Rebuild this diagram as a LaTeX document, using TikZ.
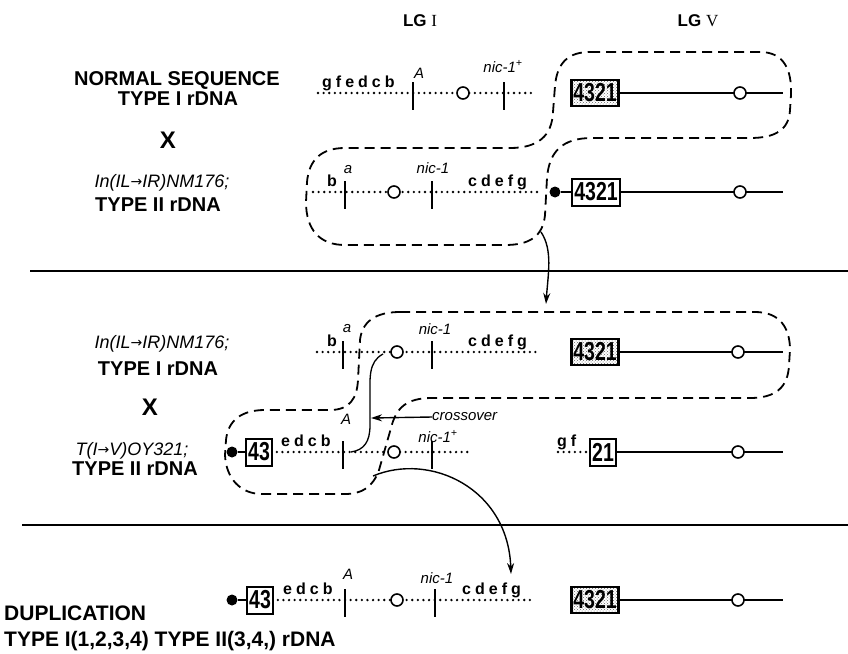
\documentclass[tikz,border=0pt]{standalone}
\usepackage{fontspec}
\setmainfont{Liberation Sans}
\newfontfamily\lgserif{Liberation Serif}
\newfontfamily\arrowfont{DejaVu Sans}
\newfontfamily\narrowfam[FakeStretch=0.75]{Liberation Sans}
\usetikzlibrary{patterns,arrows.meta}
\newcommand{\lsp}{\kern4pt}
\newcommand{\rarr}{{\arrowfont\fontsize{14}{14}\selectfont\raisebox{0.5pt}{→}}}
\begin{document}
\begin{tikzpicture}[x=1pt,y=-1pt,
  lab/.style={font=\fontsize{20}{22}\selectfont\bfseries, inner sep=0pt, anchor=base},
  bigx/.style={font=\fontsize{24}{24}\selectfont\bfseries, inner sep=0pt},
  ilab/.style={font=\fontsize{18}{20}\selectfont\itshape, inner sep=0pt, anchor=base},
  small/.style={font=\fontsize{16}{17}\selectfont\bfseries, inner sep=0pt, anchor=base west},
  ismall/.style={font=\fontsize{15}{16}\selectfont\itshape, inner sep=0pt, anchor=base},
  dots/.style={line width=2.6pt, line cap=round, dash pattern=on 0pt off 5.6pt},
  chrom/.style={line width=2.2pt},
  tickmark/.style={line width=2pt},
  cen/.style={circle, draw, line width=1.6pt, fill=white, minimum size=12pt, inner sep=0pt},
  bdot/.style={circle, fill=black, minimum size=11pt, inner sep=0pt},
  rbox/.style={draw, line width=2pt, fill=white, font=\narrowfam\bfseries\fontsize{26}{26}\selectfont, inner xsep=2pt, inner ysep=0pt, minimum height=27pt},
  sbox/.style={draw, line width=2.6pt, pattern=crosshatch dots, pattern color=black!60, font=\narrowfam\bfseries\fontsize{26}{26}\selectfont, inner xsep=2pt, inner ysep=0pt, minimum height=26pt},
  loopline/.style={line width=1.8pt, dash pattern=on 10pt off 6pt},
  sepline/.style={line width=2.4pt},
  arr/.style={line width=1.4pt, -{Stealth[length=11pt,width=7pt]}},
]
\useasboundingbox (0,0) rectangle (848,653);

% headers
\node[font=\fontsize{17}{17}\selectfont\bfseries, inner sep=0pt, anchor=base] (lg1) at (420,27) {LG {\lgserif\mdseries I}};
\node[font=\fontsize{17}{17}\selectfont\bfseries, inner sep=0pt, anchor=base] (lg5) at (698,27) {LG {\lgserif\mdseries V}};

% ---------------- section 1 ----------------
\node[lab] (l1a) at (177,85) {NORMAL SEQUENCE};
\node[lab] (l1b) at (178,105) {TYPE I rDNA};
\node[bigx] (x1) at (168,140) {X};
\node[ilab] (l1c) at (162,187) {In(IL\rarr IR)NM176;};
\node[lab] (l1d) at (158,211) {TYPE II rDNA};

% row 1
\coordinate (r1s) at (318,93); \coordinate (r1e) at (535,93);
\draw[dots] (r1s) -- (r1e);
\draw[tickmark] (413,82) -- (413,110);
\draw[tickmark] (504,82) -- (504,110);
\node[cen] (r1c) at (463,93) {};
\node[small] (r1g) at (322,87) {g\lsp f\lsp e\lsp d\lsp c\lsp b};
\node[ismall] (r1A) at (419,78) {A};
\node[ismall] (r1n) at (503,72) {nic-1\textsuperscript{+}};
\node[sbox] (r1box) at (595,93) {4321};
\coordinate (r1end) at (783,93);
\draw[chrom] (r1box.east) -- (r1end);
\node[cen] (r1cv) at (740,93) {};

% row 2
\coordinate (r2s) at (313,192); \coordinate (r2e) at (540,192);
\draw[dots] (r2s) -- (r2e);
\draw[tickmark] (345,181) -- (345,209);
\draw[tickmark] (432,181) -- (432,209);
\node[cen] (r2c) at (394,192) {};
\node[small] (r2b) at (327,186) {b};
\node[ismall] (r2a) at (348,173) {a};
\node[ismall] (r2n) at (433,173) {nic-1};
\node[small] (r2cd) at (468,186) {c\lsp d\lsp e\lsp f\lsp g};
\node[bdot] (r2dot) at (555,192) {};
\node[rbox] (r2box) at (596,192) {4321};
\coordinate (r2end) at (783,192);
\draw[chrom] (r2dot) -- (r2box.west);
\draw[chrom] (r2box.east) -- (r2end);
\node[cen] (r2cv) at (740,192) {};

% dashed exchange outline 1
\draw[loopline] (590,52) -- (760,52) .. controls (784,52) and (792,70) .. (791,95)
  -- (790,110) .. controls (789,130) and (775,138) .. (750,138)
  -- (592,138) .. controls (562,138) and (549,152) .. (547,178)
  -- (545,215) .. controls (543,236) and (530,245) .. (505,245)
  -- (345,245) .. controls (320,245) and (306,230) .. (306,202)
  -- (307,182) .. controls (309,160) and (321,148) .. (345,148)
  -- (510,148) .. controls (538,148) and (552,136) .. (553,112)
  -- (555,86) .. controls (557,63) and (568,52) .. (590,52) -- cycle;

\coordinate (a1s) at (541,232); \coordinate (a1e) at (546,304);
\draw[arr] (a1s) .. controls (553,250) and (548,274) .. (a1e);

% separators
\coordinate (s1a) at (30,271); \coordinate (s1b) at (848,271);
\draw[sepline] (s1a) -- (s1b);
\coordinate (s2a) at (22,525); \coordinate (s2b) at (848,525);
\draw[sepline] (s2a) -- (s2b);

% ---------------- section 2 ----------------
\node[ilab] (l2a) at (162,348) {In(IL\rarr IR)NM176;};
\node[lab] (l2b) at (158,375) {TYPE I rDNA};
\node[bigx] (x2) at (150,407) {X};
\node[ilab] (l2c) at (132,455) {T(I\rarr V)OY321;};
\node[lab] (l2d) at (135,475) {TYPE II rDNA};

% row a
\coordinate (rAs) at (317,352); \coordinate (rAe) at (540,352);
\draw[dots] (rAs) -- (rAe);
\draw[tickmark] (343,341) -- (343,369);
\draw[tickmark] (432,341) -- (432,369);
\node[cen] (rAc) at (397,352) {};
\node[small] (rAb) at (327,346) {b};
\node[ismall] (rAa) at (347,332) {a};
\node[ismall] (rAn) at (435,334) {nic-1};
\node[small] (rAcd) at (468,346) {c\lsp d\lsp e\lsp f\lsp g};
\node[sbox] (rAbox) at (595,352) {4321};
\coordinate (rAend) at (783,352);
\draw[chrom] (rAbox.east) -- (rAend);
\node[cen] (rAcv) at (738,352) {};

% row b
\node[bdot] (rBdot) at (232,452) {};
\node[rbox] (rBbox) at (259,452) {43};
\draw[chrom] (rBdot) -- (rBbox.west);
\coordinate (rBe) at (468,452);
\draw[dots] ([xshift=4pt]rBbox.east) -- (rBe);
\draw[tickmark] (343,441) -- (343,469);
\draw[tickmark] (432,441) -- (432,469);
\node[cen] (rBc) at (394,452) {};
\node[small] (rBed) at (281,446) {e\lsp d\lsp c\lsp b};
\node[ismall] (rBA) at (346,424) {A};
\node[ismall] (rBn) at (438,442) {nic-1\textsuperscript{+}};
\coordinate (rBgs) at (558,452);
\node[rbox] (rBbox2) at (603,452) {21};
\draw[dots] (rBgs) -- ([xshift=-3pt]rBbox2.west);
\node[small] (rBgf) at (557,446) {g\lsp f};
\coordinate (rBend) at (783,452);
\draw[chrom] (rBbox2.east) -- (rBend);
\node[cen] (rBcv) at (738,452) {};

% dashed exchange outline 2
\draw[loopline] (400,312) -- (755,312) .. controls (780,312) and (790,328) .. (790,350)
  -- (789,365) .. controls (788,388) and (775,398) .. (750,398)
  -- (432,398) .. controls (406,398) and (396,408) .. (391,428)
  -- (379,470) .. controls (373,487) and (362,494) .. (345,494)
  -- (262,494) .. controls (240,494) and (226,478) .. (225,455)
  -- (226,440) .. controls (228,420) and (242,410) .. (265,410)
  -- (330,410) .. controls (350,410) and (357,398) .. (358,380)
  -- (360,340) .. controls (362,322) and (375,312) .. (400,312) -- cycle;

% crossover
\coordinate (cxA) at (383,354); \coordinate (cxB) at (351,452);
\draw[line width=1.3pt] (cxA) .. controls (368,362) and (370,378) .. (370,400)
  -- (370,425) .. controls (370,442) and (364,450) .. (cxB);
\node[ismall, anchor=west] (cxt) at (432,417) {crossover};
\coordinate (cxp) at (371,418);
\draw[line width=1.4pt, -{Stealth[length=11pt,width=7pt]}] (cxt.west) -- (cxp);

\coordinate (a2s) at (373,476); \coordinate (a2e) at (511,574);
\draw[arr] (a2s) .. controls (430,452) and (508,488) .. (a2e);

% ---------------- section 3 ----------------
\node[lab, anchor=base west, font=\fontsize{21}{22}\selectfont\bfseries] (l3a) at (4,620) {DUPLICATION};
\node[lab, anchor=base west, font=\fontsize{21}{22}\selectfont\bfseries] (l3b) at (4,646) {TYPE I(1,2,3,4) TYPE II(3,4,) rDNA};

\node[bdot] (r3dot) at (232,600) {};
\node[rbox] (r3box) at (260,600) {43};
\draw[chrom] (r3dot) -- (r3box.west);
\coordinate (r3e) at (530,600);
\draw[dots] ([xshift=4pt]r3box.east) -- (r3e);
\draw[tickmark] (345,589) -- (345,617);
\draw[tickmark] (435,589) -- (435,617);
\node[cen] (r3c) at (397,600) {};
\node[small] (r3ed) at (283,594) {e\lsp d\lsp c\lsp b};
\node[ismall] (r3A) at (348,579) {A};
\node[ismall] (r3n) at (437,583) {nic-1};
\node[small] (r3cd) at (462,594) {c\lsp d\lsp e\lsp f\lsp g};
\node[sbox] (r3box2) at (595,600) {4321};
\coordinate (r3end) at (783,600);
\draw[chrom] (r3box2.east) -- (r3end);
\node[cen] (r3cv) at (738,600) {};
\end{tikzpicture}
\end{document}
